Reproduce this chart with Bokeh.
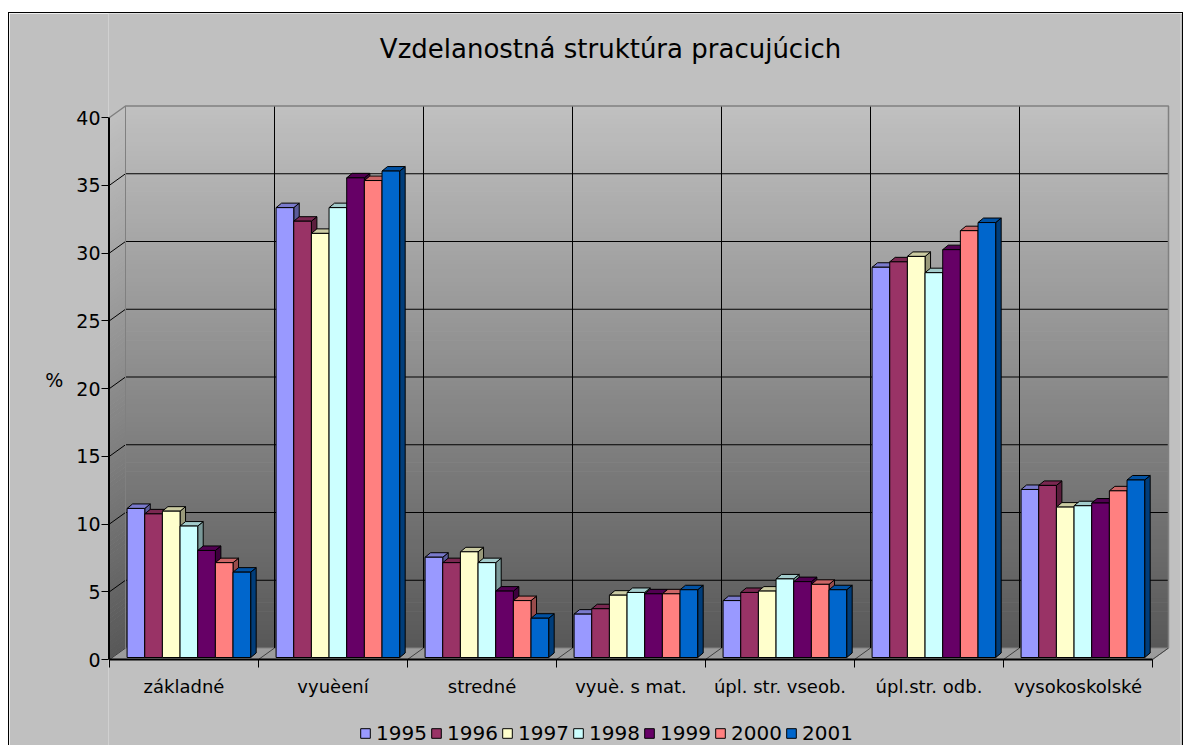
import numpy as np
from bokeh.plotting import figure
from bokeh.models import ColumnDataSource, FixedTicker, Legend, LegendItem, Range1d
from bokeh.embed import file_html
from bokeh.resources import INLINE
from bokeh.core.properties import value

# ---------------- data ----------------
categories = ["základné", "vyuèení", "stredné", "vyuè. s mat.",
              "úpl. str. vseob.", "úpl.str. odb.", "vysokoskolské"]
years = ["1995", "1996", "1997", "1998", "1999", "2000", "2001"]
v1995 = [11.0, 33.2, 7.4, 3.2, 4.2, 28.8, 12.4]
v1996 = [10.6, 32.2, 7.0, 3.6, 4.8, 29.2, 12.7]
v1997 = [10.8, 31.3, 7.8, 4.6, 4.9, 29.6, 11.1]
v1998 = [9.7, 33.2, 7.0, 4.8, 5.8, 28.4, 11.2]
v1999 = [7.9, 35.4, 4.9, 4.7, 5.6, 30.1, 11.4]
v2000 = [7.0, 35.2, 4.2, 4.7, 5.4, 31.5, 12.3]
v2001 = [6.3, 35.9, 2.9, 5.0, 5.0, 32.1, 13.1]
series = [v1995, v1996, v1997, v1998, v1999, v2000, v2001]
colors = ["#9999FF", "#993366", "#FFFFCC", "#CCFFFF", "#660066", "#FF8080", "#0066CC"]
y_ticks = [0, 5, 10, 15, 20, 25, 30, 35, 40]
title_text = "Vzdelanostná struktúra pracujúcich"
y_label = "%"

# ---------------- geometry / style ----------------
FONT = "DejaVu Sans"
W, H = 1175, 733          # with 1px css border and margins -> page x 8..1185, y 12..
BL, BR = 99, 4
PX_X, PX_Y = 149.0, 13.55
frame_w = W - BL - BR
ZERO_FROM_TOP = 659 - 13  # page y of value 0 minus canvas top
x0 = -0.5
ncat = len(categories)
x_start = x0 - 1.0 / PX_X
x_end = x_start + frame_w / PX_X
y_end = ZERO_FROM_TOP / PX_Y
y_start = -(H - ZERO_FROM_TOP) / PX_Y
ymax = y_ticks[-1]

dxw, dyw = 16 / PX_X, 11.5 / PX_Y          # wall depth offset
ddx, ddy = 5.5 / PX_X, 4.5 / PX_Y          # bar depth offset
bar_w = 0.1185
bar_off = 0.118
base = 2 / PX_Y
tick_len = 8 / PX_Y

p = figure(width=W, height=H, x_range=Range1d(x_start, x_end), y_range=Range1d(y_start, y_end),
           output_backend="svg", toolbar_location=None, title=None,
           min_border_left=BL, min_border_right=BR, min_border_top=0, min_border_bottom=0)
p.styles = {"border-top": "1px solid black", "border-left": "1px solid black",
            "border-right": "1px solid black", "margin-top": "12px", "margin-left": "8px"}
p.background_fill_color = "#C0C0C0"
p.border_fill_color = "#C0C0C0"
p.outline_line_color = None
p.xgrid.visible = False
p.ygrid.visible = False
p.xaxis.visible = False

# ---- walls with gradient ----
n = 120
edges = np.linspace(0, ymax, n + 1)
top_g, bot_g = 192, 88
cols = []
for i in range(n):
    t = (edges[i] + edges[i + 1]) / 2 / ymax
    g = int(round(bot_g + (top_g - bot_g) * t))
    cols.append("#%02x%02x%02x" % (g, g, g))
eps = 0.05
p.quad(left=x0 + dxw, right=x0 + ncat + dxw, bottom=edges[:-1] + dyw,
       top=edges[1:] + dyw + eps, fill_color=cols, line_color=None)
side_xs = [[x0, x0 + dxw, x0 + dxw, x0] for i in range(n)]
side_ys = [[edges[i], edges[i] + dyw, edges[i + 1] + dyw + eps, edges[i + 1] + eps] for i in range(n)]
p.patches(side_xs, side_ys, fill_color=cols, line_color=None)

# floor
p.patch([x0, x0 + ncat, x0 + ncat + dxw, x0 + dxw], [0, 0, dyw, dyw],
        fill_color="#9c9c9c", line_color="#808080", line_width=1)
bx = [x0 + k for k in range(ncat + 1)]
p.segment(x0=bx, y0=[0] * len(bx), x1=[b + dxw for b in bx], y1=[dyw] * len(bx),
          line_color="#404040", line_width=1)

# gridlines
inner = y_ticks[1:-1]
p.segment(x0=[x0] * len(inner), y0=inner, x1=[x0 + dxw] * len(inner),
          y1=[v + dyw for v in inner], line_color="black", line_width=1)
p.segment(x0=[x0 + dxw] * len(inner), y0=[v + dyw for v in inner],
          x1=[x0 + ncat + dxw] * len(inner), y1=[v + dyw for v in inner],
          line_color="black", line_width=1)
div = [x0 + dxw + k for k in range(1, ncat)]
p.segment(x0=div, y0=[dyw] * len(div), x1=div, y1=[ymax + dyw] * len(div),
          line_color="black", line_width=1)
p.line([x0, x0 + dxw, x0 + ncat + dxw, x0 + ncat + dxw],
       [ymax, ymax + dyw, ymax + dyw, dyw], line_color="#808080", line_width=1.5)
p.line([x0 + dxw, x0 + dxw], [dyw, ymax + dyw], line_color="#808080", line_width=1)

# front floor edge (category axis) and boundary ticks
p.line([x0, x0 + ncat], [0, 0], line_color="black", line_width=2)
p.segment(x0=bx, y0=[0] * len(bx), x1=bx, y1=[-tick_len] * len(bx),
          line_color="black", line_width=1)
p.line([x0, x0], [0, ymax], line_color="black", line_width=1)


def shade(hexc, f):
    r, g, b = int(hexc[1:3], 16), int(hexc[3:5], 16), int(hexc[5:7], 16)
    return "#%02x%02x%02x" % (int(r * f), int(g * f), int(b * f))


# ---- 3D bars ----
xs, ys, fc = [], [], []
front_idx = {}
for c in range(ncat):
    for s, vals in enumerate(series):
        v = vals[c]
        l = x0 + c + bar_off + s * bar_w
        r = l + bar_w
        t = v + base
        xs.append([r, r + ddx, r + ddx, r]); ys.append([base, base + ddy, t + ddy, t])
        fc.append(shade(colors[s], 0.6))
        xs.append([l, r, r + ddx, l + ddx]); ys.append([t, t, t + ddy, t + ddy])
        fc.append(shade(colors[s], 0.8))
        front_idx[(c, s)] = len(xs)
        xs.append([l, r, r, l]); ys.append([base, base, t, t])
        fc.append(colors[s])
src = ColumnDataSource(dict(xs=xs, ys=ys, fc=fc))
bars = p.patches("xs", "ys", source=src, fill_color="fc", line_color="black", line_width=1)

# category labels
p.text(x=list(range(ncat)), y=[-27 / PX_Y] * ncat, text=categories,
       text_font=value(FONT), text_font_size="18px", text_align="center",
       text_baseline="middle", text_color="black")

# title
p.text(x=[(610 - 109) / PX_X + x0], y=[(659 - 48) / PX_Y], text=[title_text],
       text_font=value(FONT), text_font_size="26px", text_align="center",
       text_baseline="middle", text_color="black")

# value axis
ya = p.yaxis[0]
ya.ticker = FixedTicker(ticks=y_ticks)
ya.bounds = (0, ymax)
ya.major_tick_out = 7
ya.major_tick_in = 0
ya.minor_tick_line_color = None
ya.major_label_text_font = FONT
ya.major_label_text_font_size = "19px"
ya.major_label_text_color = "black"
ya.major_label_standoff = 1
ya.axis_line_color = "black"
ya.major_tick_line_color = "black"
ya.axis_label = y_label
ya.axis_label_orientation = "horizontal"
ya.axis_label_text_font = FONT
ya.axis_label_text_font_size = "19px"
ya.axis_label_text_font_style = "normal"
ya.axis_label_text_color = "black"
ya.axis_label_standoff = 10

items = [LegendItem(label=years[s], renderers=[bars], index=front_idx[(0, s)]) for s in range(len(years))]
legend = Legend(items=items, orientation="horizontal", location=(251, 1),
                glyph_width=12, glyph_height=12, label_standoff=5, spacing=0,
                label_width=54, label_height=22, padding=0, margin=0,
                label_text_font=FONT, label_text_font_size="20px", label_text_color="black",
                background_fill_alpha=0, border_line_color=None)
p.add_layout(legend, "center")

open("out.html", "w").write(file_html(p, INLINE))
